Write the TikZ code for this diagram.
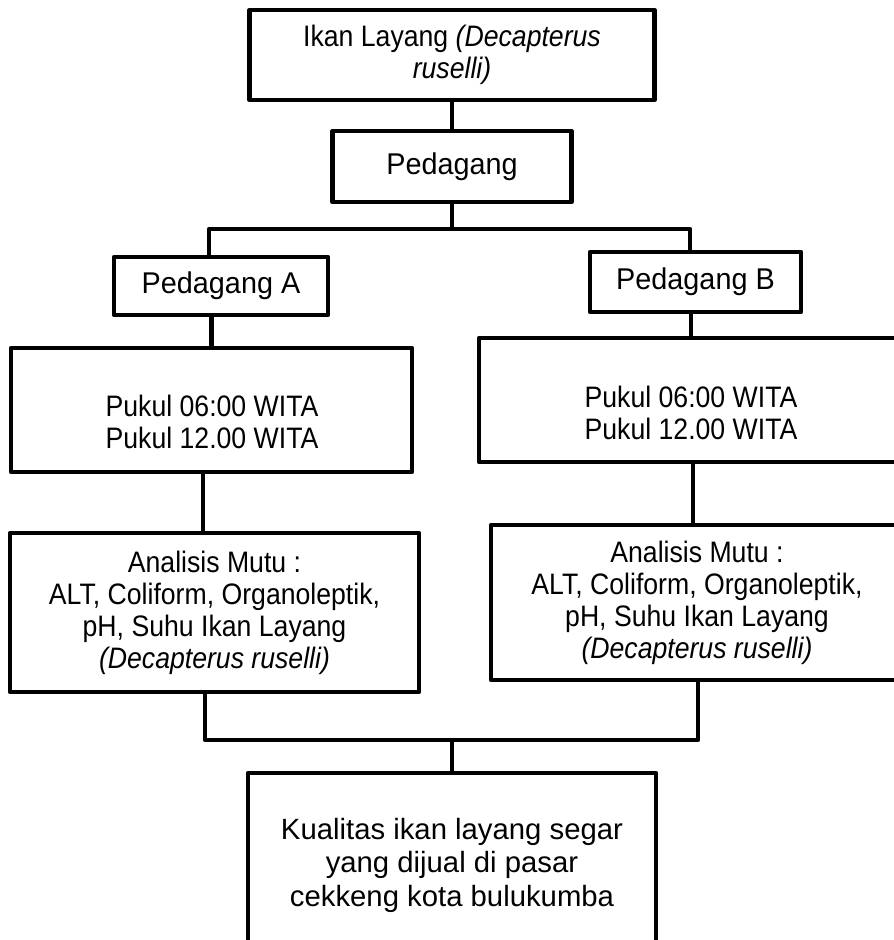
\documentclass[tikz,border=0pt]{standalone}
\usepackage{fontspec}
\setmainfont{Liberation Sans}
\newfontfamily\condf[FakeStretch=0.9]{Liberation Sans}
\newfontfamily\semif[FakeStretch=0.96]{Liberation Sans}

\begin{document}
\begin{tikzpicture}[
    x=1pt, y=-1pt,
    box/.style={draw, rectangle, line width=4.5pt, line join=round,
                inner sep=0pt, align=center},
    txt/.style={inner sep=0pt, align=center},
    conn/.style={line width=4.5pt, line join=round},
    fsmall/.style={font=\condf\fontsize{29.6}{32}\selectfont},
    fmid/.style={font=\semif\fontsize{30}{33}\selectfont},
    fbig/.style={font=\fontsize{29.3}{33.5}\selectfont},
]
\useasboundingbox (0,0) rectangle (894,940);
\clip (0,0) rectangle (894,940);

% ============================================================
% Boxes (pixel coordinates of the reference)
% ============================================================
\node[box, fsmall, minimum width=405, minimum height=90] (ikan) at (452,55)
    {Ikan Layang \textit{(Decapterus}\\\textit{ruselli)}};
\node[box, fmid, minimum width=239, minimum height=71] (pdg) at (452,166.5) {Pedagang};

\node[box, fmid, minimum width=214, minimum height=58] (pa) at (221,286) {Pedagang A};
\node[box, fmid, minimum width=211, minimum height=60] (pb) at (695.5,282) {Pedagang B};

\node[box, minimum width=401, minimum height=124] (wa) at (211.5,410) {};
\node[txt, fsmall] (wat) at (212,421.5) {Pukul 06:00 WITA\\Pukul 12.00 WITA};
\node[box, minimum width=424, minimum height=124] (wb) at (691,400) {};
\node[txt, fsmall] (wbt) at (691,412.5) {Pukul 06:00 WITA\\Pukul 12.00 WITA};

\node[box, fsmall, minimum width=409, minimum height=159] (ma) at (214.5,612.5)
    {Analisis Mutu :\\ALT, Coliform, Organoleptik,\\pH, Suhu Ikan Layang\\\textit{(Decapterus ruselli)}};
\node[box, fsmall, minimum width=412, minimum height=155] (mb) at (697,602.5)
    {Analisis Mutu :\\ALT, Coliform, Organoleptik,\\pH, Suhu Ikan Layang\\\textit{(Decapterus ruselli)}};

\node[box, fbig, minimum width=408, minimum height=184] (hasil) at (452,865)
    {Kualitas ikan layang segar\\yang dijual di pasar\\cekkeng kota bulukumba};

% ============================================================
% Connectors
% ============================================================
\draw[conn] (ikan) -- (pdg);

% split to the two traders
\coordinate (sl) at (209,229);
\coordinate (sr) at (690,229);
\draw[conn] (pdg.south) -- (pdg.south |- sl);
\draw[conn] (pa.north -| sl) -- (sl) -- (sr) -- (pb.north -| sr);

\draw[conn] (pa.south -| wa.north) -- (wa.north);
\draw[conn] (pb.south -| wb.north) -- (wb.north);

\draw[conn] ([xshift=-8.5pt]wa.south) -- ([xshift=-8.5pt]wa.south |- ma.north);
\draw[conn] ([xshift=2pt]wb.south) -- ([xshift=2pt]wb.south |- mb.north);

% merge into the result
\coordinate (ml) at (205,740);
\coordinate (mr) at (698,740);
\draw[conn] (ma.south -| ml) -- (ml) -- (mr) -- (mb.south -| mr);
\draw[conn] (ml -| hasil.north) -- (hasil.north);

\end{tikzpicture}
\end{document}
